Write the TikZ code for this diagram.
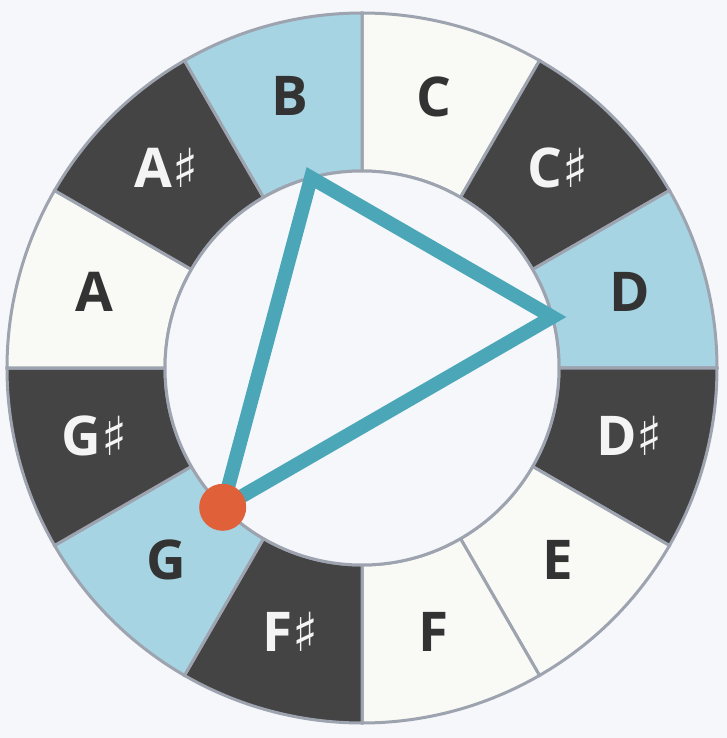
\documentclass[tikz,border=0pt]{standalone}
\usepackage{fontspec}
\setmainfont{Open Sans}
\newfontfamily\symfont{DejaVu Sans}
\usepackage{xcolor}
\usepackage{tikz}
\usetikzlibrary{arrows.meta}
\definecolor{bg}{HTML}{F5F7FA}
\definecolor{ivory}{HTML}{F9FAF5}
\definecolor{darkkey}{HTML}{444444}
\definecolor{chord}{HTML}{A6D4E2}
\definecolor{rim}{HTML}{9EA3B0}
\definecolor{ink}{HTML}{333333}
\definecolor{paper}{HTML}{F4F4F4}
\definecolor{teal}{HTML}{4BA7B8}
\definecolor{root}{HTML}{E0603A}
\newcommand{\shp}{{\symfont\mdseries\fontsize{54}{54}\selectfont ♯}}
\tikzset{
  notelabel/.style={font=\bfseries\fontsize{55}{55}\selectfont, inner sep=0pt, yshift=4bp},
  sector/.style={draw=rim, line width=3bp}
}

\begin{document}
\begin{tikzpicture}[x=1bp,y=1bp]
    \useasboundingbox[fill=bg] (-362,-370) rectangle (365,368);
    % twelve sectors, C on top, clockwise
    \foreach \i/\nm/\clr/\tc/\lbl in {0/C/ivory/ink/C, 1/Cs/darkkey/paper/C\shp,
                                      2/D/chord/ink/D, 3/Ds/darkkey/paper/D\shp,
                                      4/E/ivory/ink/E, 5/F/ivory/ink/F,
                                      6/Fs/darkkey/paper/F\shp, 7/G/chord/ink/G,
                                      8/Gs/darkkey/paper/G\shp, 9/A/ivory/ink/A,
                                      10/As/darkkey/paper/A\shp, 11/B/chord/ink/B}{
      \pgfmathsetmacro{\a}{90-30*\i}
      \pgfmathsetmacro{\b}{\a-30}
      \pgfmathsetmacro{\m}{\a-15}
      \filldraw[sector, fill=\clr] (\a:355) arc[start angle=\a, end angle=\b, radius=355]
        -- (\b:197) arc[start angle=\b, end angle=\a, radius=197] -- cycle;
      \node[notelabel, text=\tc] (n\nm) at (\m:277) {\lbl};
    }
    % inner disc
    \filldraw[fill=bg, draw=rim, line width=3bp] (0,0) circle[radius=197];
    % chord triangle
    \coordinate (vB) at (105:197);
    \coordinate (vD) at (15:197);
    \coordinate (vG) at (225:197);
    \draw[teal, line width=14bp, line join=miter] (vB) -- (vD) -- (vG) -- cycle;
    % root marker
    \fill[root] (vG) circle[radius=23.5];
\end{tikzpicture}
\end{document}
